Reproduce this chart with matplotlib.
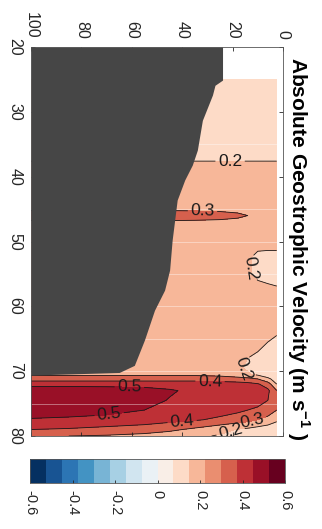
import numpy as np
import matplotlib
matplotlib.use('Agg')
import matplotlib.pyplot as plt
from matplotlib.colors import ListedColormap, Normalize
from matplotlib.cm import ScalarMappable

plt.rcParams['font.family'] = 'Liberation Sans'
plt.rcParams['mathtext.fontset'] = 'custom'
plt.rcParams['mathtext.rm'] = 'Liberation Sans'
plt.rcParams['mathtext.bf'] = 'Liberation Sans:bold'

# velocity section (m/s)
depth = [2.5, 6, 10, 14, 18, 25, 35, 45, 55, 70, 85, 100]
lat = [25, 30, 35, 37, 38.5, 42, 45, 46, 47, 50, 51, 52.5, 55, 56.5, 58,
       62, 64, 66, 68, 69.5, 70.5, 71.2, 72, 73, 74.5, 76, 77.5, 79, 80]
velocity = [
    [0.15, 0.15, 0.15, 0.15, 0.15, 0.15, 0.15, 0.15, 0.15, 0.15, 0.15, 0.15],
    [0.15, 0.15, 0.15, 0.15, 0.15, 0.15, 0.15, 0.15, 0.15, 0.15, 0.15, 0.15],
    [0.16, 0.16, 0.16, 0.16, 0.16, 0.16, 0.16, 0.16, 0.16, 0.16, 0.16, 0.16],
    [0.18, 0.18, 0.18, 0.18, 0.18, 0.18, 0.18, 0.18, 0.18, 0.18, 0.18, 0.18],
    [0.23, 0.23, 0.23, 0.23, 0.23, 0.23, 0.23, 0.23, 0.23, 0.23, 0.23, 0.23],
    [0.25, 0.25, 0.25, 0.25, 0.25, 0.25, 0.25, 0.25, 0.25, 0.25, 0.25, 0.25],
    [0.25, 0.25, 0.26, 0.26, 0.27, 0.27, 0.27, 0.27, 0.27, 0.27, 0.27, 0.27],
    [0.25, 0.26, 0.28, 0.30, 0.32, 0.35, 0.38, 0.40, 0.40, 0.40, 0.40, 0.40],
    [0.25, 0.25, 0.26, 0.26, 0.27, 0.27, 0.27, 0.27, 0.27, 0.27, 0.27, 0.27],
    [0.25, 0.25, 0.25, 0.25, 0.25, 0.25, 0.25, 0.25, 0.25, 0.25, 0.25, 0.25],
    [0.21, 0.21, 0.21, 0.23, 0.25, 0.25, 0.25, 0.25, 0.25, 0.25, 0.25, 0.25],
    [0.17, 0.17, 0.18, 0.21, 0.24, 0.25, 0.25, 0.25, 0.25, 0.25, 0.25, 0.25],
    [0.17, 0.17, 0.18, 0.21, 0.24, 0.25, 0.25, 0.25, 0.25, 0.25, 0.25, 0.25],
    [0.19, 0.20, 0.21, 0.22, 0.25, 0.25, 0.25, 0.25, 0.25, 0.25, 0.25, 0.25],
    [0.23, 0.25, 0.25, 0.25, 0.25, 0.25, 0.25, 0.25, 0.25, 0.25, 0.25, 0.25],
    [0.22, 0.25, 0.25, 0.25, 0.25, 0.25, 0.25, 0.25, 0.25, 0.25, 0.25, 0.25],
    [0.21, 0.23, 0.25, 0.25, 0.25, 0.25, 0.25, 0.25, 0.25, 0.25, 0.25, 0.25],
    [0.17, 0.19, 0.22, 0.24, 0.25, 0.25, 0.25, 0.25, 0.25, 0.25, 0.25, 0.25],
    [0.15, 0.16, 0.18, 0.20, 0.23, 0.25, 0.25, 0.25, 0.25, 0.25, 0.25, 0.25],
    [0.14, 0.15, 0.17, 0.19, 0.21, 0.24, 0.25, 0.25, 0.25, 0.25, 0.25, 0.25],
    [0.14, 0.15, 0.18, 0.21, 0.24, 0.27, 0.28, 0.28, 0.28, 0.28, 0.28, 0.28],
    [0.16, 0.22, 0.30, 0.33, 0.34, 0.35, 0.36, 0.36, 0.36, 0.36, 0.36, 0.36],
    [0.20, 0.35, 0.41, 0.43, 0.44, 0.45, 0.46, 0.46, 0.46, 0.46, 0.46, 0.46],
    [0.30, 0.42, 0.44, 0.45, 0.46, 0.47, 0.48, 0.51, 0.54, 0.56, 0.57, 0.57],
    [0.33, 0.40, 0.44, 0.45, 0.46, 0.47, 0.47, 0.495, 0.53, 0.57, 0.59, 0.60],
    [0.30, 0.35, 0.38, 0.40, 0.42, 0.44, 0.46, 0.48, 0.50, 0.53, 0.55, 0.56],
    [0.22, 0.27, 0.30, 0.33, 0.35, 0.38, 0.41, 0.43, 0.45, 0.47, 0.48, 0.49],
    [0.12, 0.14, 0.16, 0.18, 0.195, 0.23, 0.28, 0.32, 0.35, 0.37, 0.39, 0.40],
    [0.10, 0.11, 0.13, 0.15, 0.17, 0.19, 0.22, 0.25, 0.27, 0.29, 0.30, 0.31],
]

# sea floor depth along the section (grey area below it)
bathy_lat = [20, 25.1, 25.9, 27.4, 31.3, 35.9, 38.2, 40.5, 43.6, 49.8, 54.4,
             57.5, 60.6, 65.2, 69.1, 70.2, 70.6, 80]
bathy_depth = [24, 24, 27, 28, 32, 34, 36, 39, 42, 44, 45,
               47, 51, 55, 59, 65, 100, 100]

seam_lat = [35, 45, 50, 55, 60, 65, 70, 75]

fill_levels = [-0.6, -0.5, -0.4, -0.3, -0.2, -0.1, 0.0, 0.1, 0.2, 0.3, 0.4, 0.5, 0.6]
label_levels = [0.2, 0.3, 0.4, 0.5]
cbar_ticks = [-0.6, -0.4, -0.2, 0, 0.2, 0.4, 0.6]
cbar_labels = ['-0.6', '-0.4', '-0.2', '0', '0.2', '0.4', '0.6']
label_spots = [(21, 37.7), (32, 45.9), (14, 54.1), (16, 69.8), (61, 72.9),
               (69, 76.6), (29, 72.4), (40, 77.9), (12, 78.0), (21, 79.1)]

cmap16 = ListedColormap(plt.get_cmap('RdBu_r').resampled(16)(np.arange(16)))
fill_colors = []
for lev in fill_levels[:-1]:
    idx = int(np.floor(np.round((lev + 0.6) / 0.075, 6)))
    fill_colors.append(cmap16(min(idx, 15)))

fig = plt.figure(figsize=(3.22, 5.29), dpi=100)
ax = fig.add_axes([0.0963, 0.1758, 0.7826, 0.7353])

V = np.array(velocity)
ax.contourf(depth, lat, V, levels=fill_levels, colors=fill_colors, zorder=1)
ax.hlines(seam_lat, 2.5, 100, colors='white', linewidth=0.7, alpha=0.4, zorder=1.5)
ax.contour(depth, lat, V, levels=[0.1], colors='#1a1a1a', linewidths=0.6, zorder=2)
cs = ax.contour(depth, lat, V, levels=label_levels, colors='#1a1a1a',
                linewidths=0.6, zorder=2)
ax.clabel(cs, fontsize=12.5, inline=True, inline_spacing=3, fmt='%g',
          manual=label_spots)
ax.fill_betweenx(bathy_lat, bathy_depth, 100, color='#464646', lw=0, zorder=3)

ax.set_xlim(100, 0)
ax.set_ylim(80, 20)
ax.set_xticks([100, 80, 60, 40, 20, 0])
ax.set_yticks([20, 30, 40, 50, 60, 70, 80])
ax.xaxis.tick_top()
ax.tick_params(direction='in', length=3, width=0.6, top=True, bottom=True,
               left=True, right=True, labelsize=11.5, colors='#262626')
ax.tick_params(axis='x', pad=6)
ax.tick_params(axis='y', pad=6)
for t in ax.get_xticklabels():
    t.set_rotation(-90)
for t in ax.get_yticklabels():
    t.set_rotation(-90)
    t.set_va('center')
for s in ax.spines.values():
    s.set_linewidth(0.6)
    s.set_color('#555555')

fig.text(0.925, 0.53, r'Absolute Geostrophic Velocity (m s$^{\mathbf{-1}}$ )',
         rotation=-90, ha='center', va='center', fontsize=15,
         fontweight='bold')

cax = fig.add_axes([0.0932, 0.087, 0.792, 0.0454])
sm = ScalarMappable(norm=Normalize(-0.6, 0.6), cmap=cmap16)
cb = fig.colorbar(sm, cax=cax, orientation='horizontal', ticks=cbar_ticks)
cb.ax.set_xticklabels(cbar_labels, rotation=-90)
cb.ax.tick_params(direction='in', length=2, width=0.6, labelsize=10.5,
                  colors='#262626', pad=5)
cb.outline.set_linewidth(0.6)
cb.outline.set_edgecolor('#555555')

fig.savefig('out.png', dpi=100)
